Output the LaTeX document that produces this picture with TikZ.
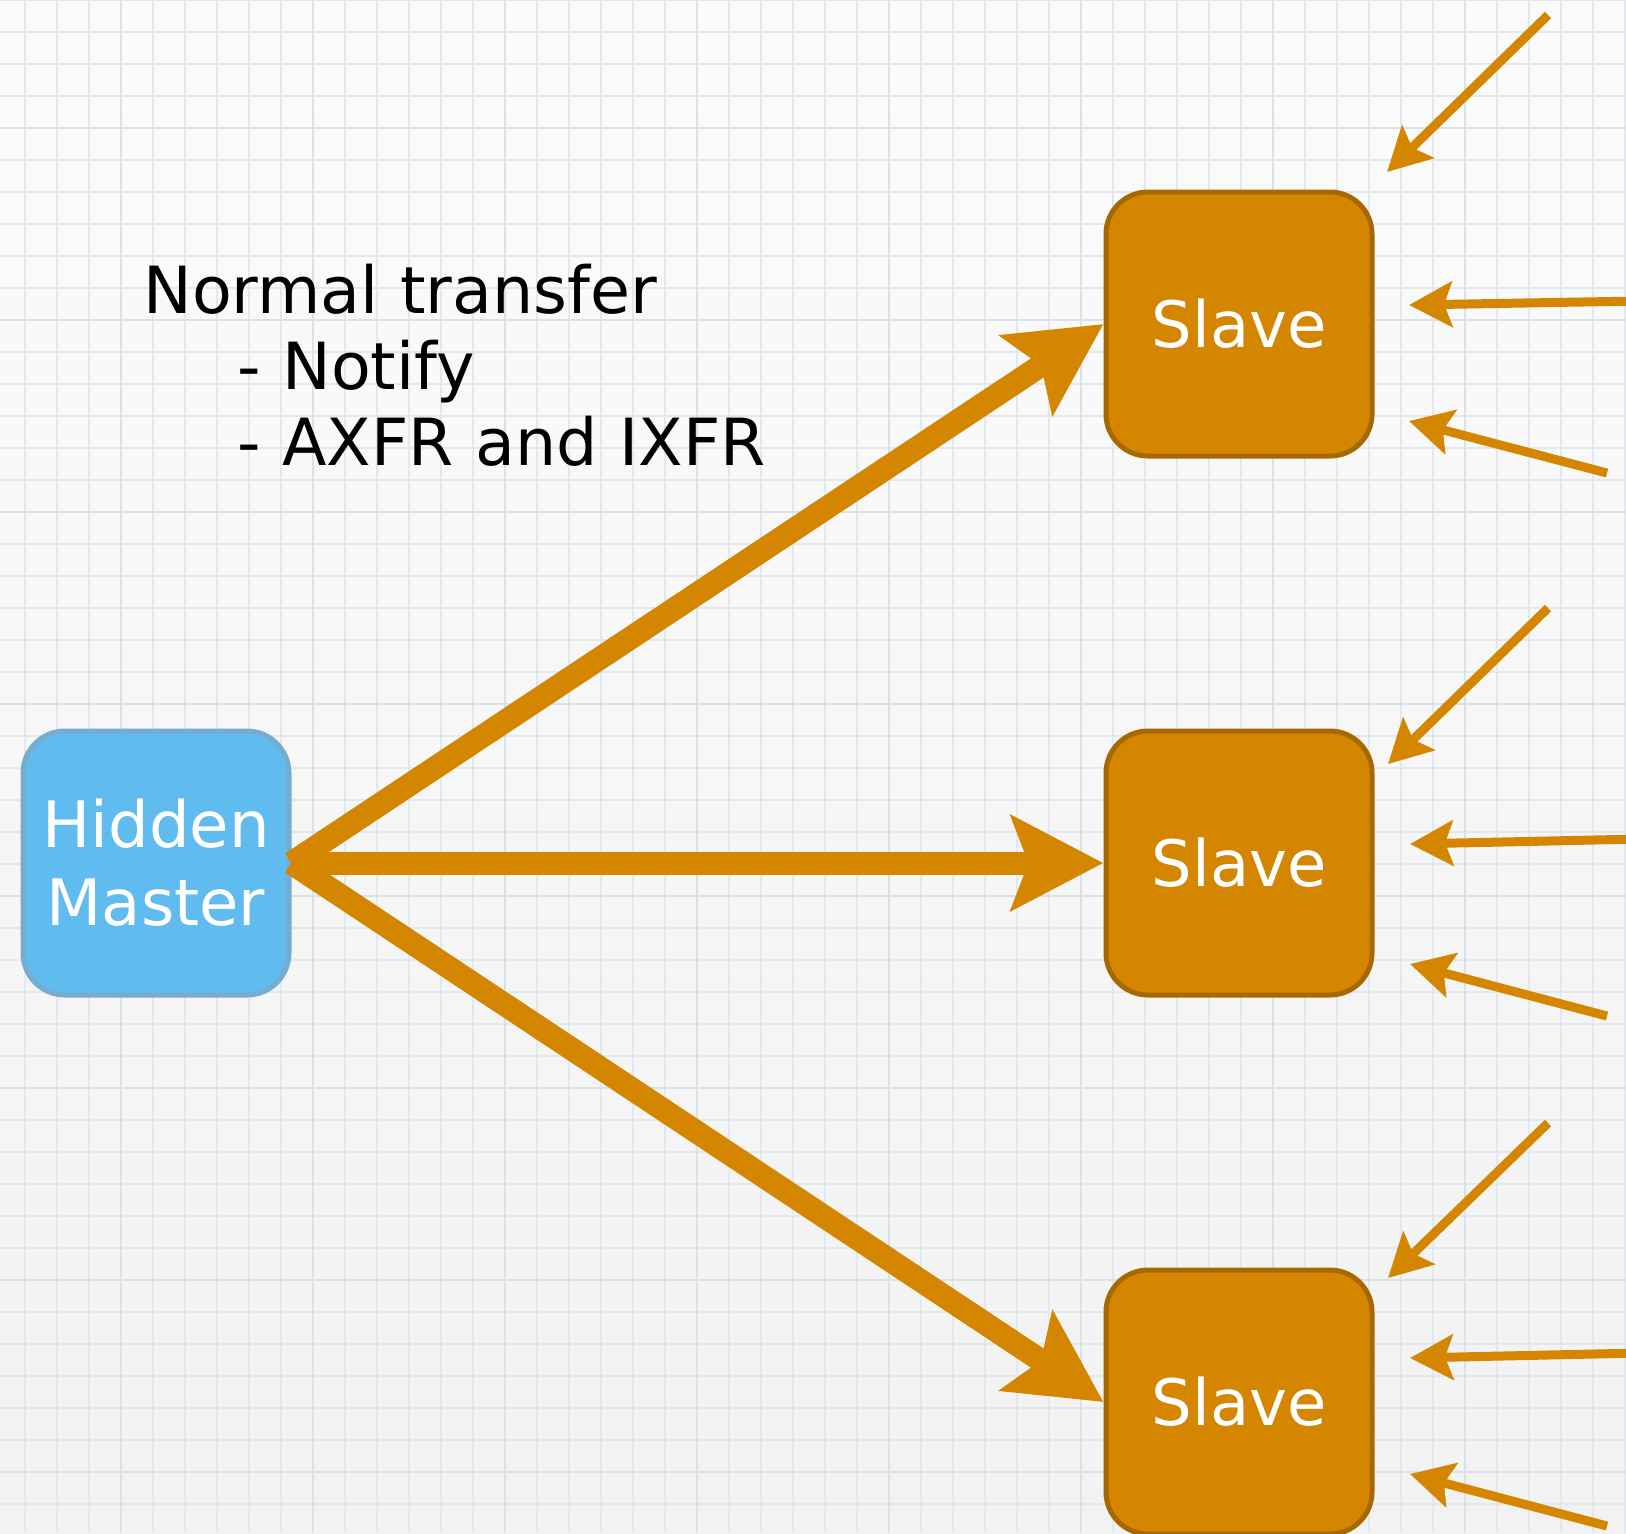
\documentclass[tikz,border=0pt]{standalone}
\usepackage{fontspec}
\setmainfont{DejaVu Sans}
\usetikzlibrary{arrows.meta}
\definecolor{amber}{RGB}{212,134,0}
\definecolor{amberdark}{RGB}{168,104,0}
\definecolor{sky}{RGB}{96,187,238}
\definecolor{skydark}{RGB}{118,172,208}
\definecolor{gridblue}{RGB}{224,234,238}
\definecolor{gridmajor}{RGB}{214,227,233}

\begin{document}
\begin{tikzpicture}[x=0.5pt,y=-0.5pt,
    server/.style={rounded corners=21pt,line width=2.5pt,minimum width=133pt,minimum height=132pt,
      inner sep=0pt,text=white,align=center,font=\fontsize{32}{39}\selectfont},
    push/.style={amber,line width=11.5pt,-{Stealth[length=46pt,width=47pt,inset=8.5pt]}},
    query/.style={amber,line width=4.5pt,-{Stealth[length=21.5pt,width=22.5pt,inset=4pt]}}]
  \useasboundingbox (0,0) rectangle (1626,1533);
  \clip (0,0) rectangle (1626,1533);
  % graph paper
  \fill[top color=gray!3,bottom color=gray!10] (0,0) rectangle (1626,1533);
  \foreach \x in {25,57,...,1626} \draw[gridblue,line width=0.9pt] (\x,0) -- (\x,1533);
  \foreach \y in {0,32,...,1533} \draw[gridblue,line width=0.9pt] (0,\y) -- (1626,\y);
  \foreach \x in {121,313,...,1626} \draw[gridmajor,line width=1.3pt] (\x,0) -- (\x,1533);
  \foreach \y in {128,320,...,1533} \draw[gridmajor,line width=1.3pt] (0,\y) -- (1626,\y);

  \node[anchor=base west,text width=340pt,align=left,inner sep=0pt,font=\fontsize{32.5}{38}\selectfont] (transfer) at (143,313)
    {Normal transfer\\\hspace*{47pt}- Notify\\\hspace*{47pt}- AXFR and IXFR};

  \node[server,fill=sky,draw=skydark] (master) at (156,863) {Hidden\\Master};
  \foreach \y [count=\i] in {324,863,1402}{
    \node[server,fill=amber,draw=amberdark] (slave\i) at (1239,\y) {Slave};
    \draw[push] (master.east) -- (slave\i.west);
  }

  % queries coming in from the right
  \foreach \sx/\sy/\tx/\ty [count=\k] in {1548/15/1387/172,1640/301/1409/305,1607/473/1409/421,
      1548/608/1388/764,1640/839/1410/844,1607/1016/1410/964,
      1548/1123/1388/1278,1640/1353/1410/1358,1607/1526/1410/1474}{
    \coordinate (feed\k) at (\sx,\sy);
    \coordinate (feed\k tip) at (\tx,\ty);
    \draw[query] (feed\k) -- (feed\k tip);
  }
\end{tikzpicture}
\end{document}
